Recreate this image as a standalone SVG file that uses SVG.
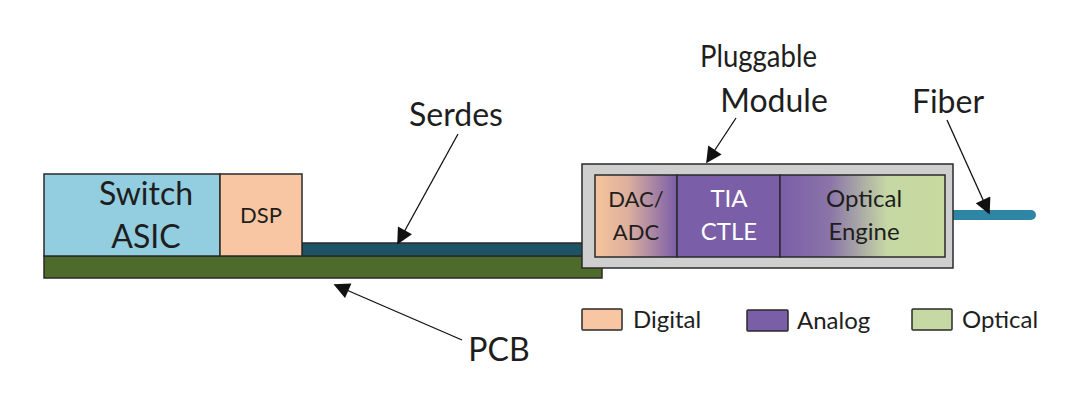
<svg xmlns="http://www.w3.org/2000/svg" width="1080" height="400" viewBox="0 0 1080 400">
<style>
text{font-family:Lato,"Open Sans","Liberation Sans",sans-serif;fill:#1e1e1e}
.big{font-size:32px}
.plug{font-size:31px}
.sm{font-size:22px}
.opt{font-size:24px}
.leg{font-size:24px}
.box{stroke:#2a2a2a;stroke-width:1.5}
</style>
<defs>
<marker id="ah2" viewBox="0 0 10 10" refX="9" refY="5" markerWidth="18" markerHeight="16" markerUnits="userSpaceOnUse" orient="auto"><path d="M0,0L10,5L0,10z" fill="#111"/></marker>
<linearGradient id="gDac" x1="0" x2="1"><stop offset="0" stop-color="#f6c49c"/><stop offset="0.4" stop-color="#ddb09e"/><stop offset="1" stop-color="#7a5ea8"/></linearGradient>
<linearGradient id="gOpt" x1="0" x2="1"><stop offset="0" stop-color="#7a5ea8"/><stop offset="0.3" stop-color="#8a74a8"/><stop offset="0.65" stop-color="#c6d8a4"/><stop offset="1" stop-color="#c8da9e"/></linearGradient>
</defs>
<rect width="1080" height="400" fill="#fff"/>
<g id="pcb"><rect class="box" x="44" y="256" width="558" height="22" fill="#4e6b2c"/></g>
<g id="serdes-trace"><rect class="box" x="302" y="243" width="290" height="13" fill="#1e5366"/></g>
<g id="switch-asic"><rect class="box" x="44" y="174" width="176" height="82" fill="#93cde0"/>
<text class="big" x="146" y="205" text-anchor="middle">Switch</text><text class="big" x="146" y="248" text-anchor="middle">ASIC</text></g>
<g id="dsp"><rect class="box" x="220" y="174" width="82" height="82" fill="#f8c6a2"/>
<text class="sm" x="261" y="223" text-anchor="middle">DSP</text></g>
<g id="fiber"><line x1="945" y1="215" x2="1031" y2="215" stroke="#2f86a4" stroke-width="10" stroke-linecap="round"/></g>
<g id="module"><rect class="box" x="582" y="164" width="371" height="104" fill="#cfcfcf"/>
<rect class="box" x="595" y="175" width="82" height="82" fill="url(#gDac)"/>
<text class="sm" x="636" y="207" text-anchor="middle">DAC/</text><text class="sm" x="636" y="240" text-anchor="middle">ADC</text>
<rect class="box" x="677" y="175" width="103" height="82" fill="#7a5ea8"/>
<text class="opt" x="729" y="207" text-anchor="middle" style="fill:#fff">TIA</text><text class="opt" x="729" y="240" text-anchor="middle" style="fill:#fff">CTLE</text>
<rect class="box" x="780" y="175" width="165" height="82" fill="url(#gOpt)"/>
<text class="opt" x="864" y="207" text-anchor="middle">Optical</text><text class="opt" x="864" y="240" text-anchor="middle">Engine</text></g>
<g id="labels">
<text class="big" x="456" y="126" text-anchor="middle">Serdes</text>
<text class="plug" x="700" y="67" textLength="117" lengthAdjust="spacingAndGlyphs">Pluggable</text>
<text class="big" x="774" y="112" text-anchor="middle">Module</text>
<text class="big" x="948" y="113" text-anchor="middle">Fiber</text>
<text class="big" x="499" y="361" text-anchor="middle">PCB</text>
</g>
<g id="connectors">
<line x1="458" y1="134" x2="398" y2="243" stroke="#111" stroke-width="1.3" marker-end="url(#ah2)"/>
<line x1="736" y1="118" x2="707" y2="162" stroke="#111" stroke-width="1.3" marker-end="url(#ah2)"/>
<line x1="947" y1="120" x2="989" y2="213" stroke="#111" stroke-width="1.3" marker-end="url(#ah2)"/>
<line x1="462" y1="340" x2="335" y2="285" stroke="#111" stroke-width="1.3" marker-end="url(#ah2)"/>
</g>
<g id="legend">
<rect class="box" x="582" y="309" width="40" height="21" fill="#f8c6a2" rx="1"/><text class="leg" x="633" y="328">Digital</text>
<rect class="box" x="747" y="310" width="41" height="21" fill="#7a5ea8" rx="1"/><text class="leg" x="797" y="329">Analog</text>
<rect class="box" x="912" y="309" width="40" height="21" fill="#c6d9a4" rx="1"/><text class="leg" x="962" y="328">Optical</text>
</g>
</svg>
